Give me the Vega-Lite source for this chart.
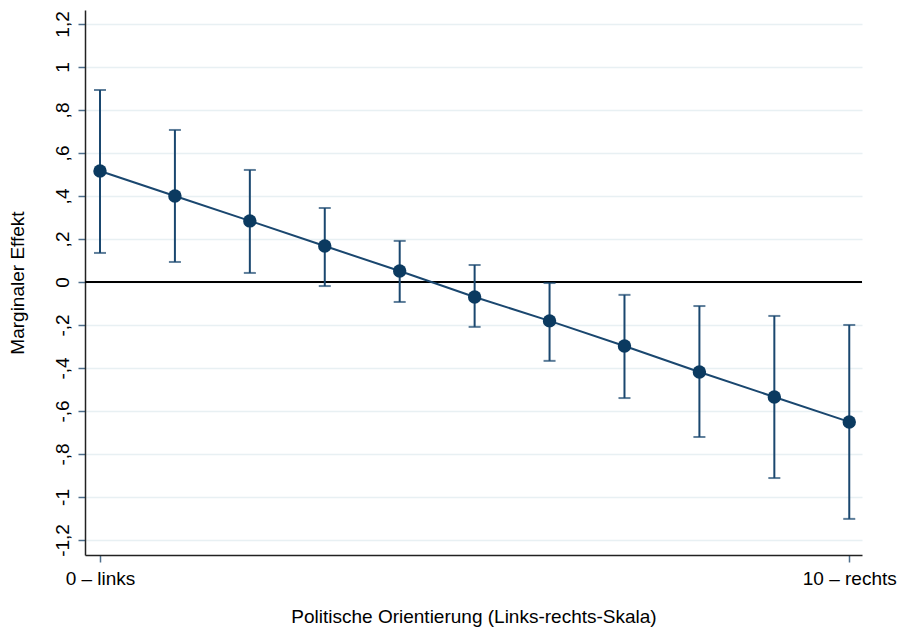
{
  "$schema": "https://vega.github.io/schema/vega-lite/v6.json",
  "width": 777,
  "height": 545,
  "autosize": {"type": "none"},
  "padding": {"left": 85, "top": 10, "right": 35, "bottom": 77},
  "background": "white",
  "config": {
    "view": {"stroke": null},
    "font": "Liberation Sans"
  },
  "data": {
    "values": [
      {"x": 0, "y": 0.516, "lo": 0.135, "hi": 0.893},
      {"x": 1, "y": 0.400, "lo": 0.093, "hi": 0.707},
      {"x": 2, "y": 0.284, "lo": 0.042, "hi": 0.521},
      {"x": 3, "y": 0.167, "lo": -0.019, "hi": 0.344},
      {"x": 4, "y": 0.051, "lo": -0.093, "hi": 0.191},
      {"x": 5, "y": -0.070, "lo": -0.209, "hi": 0.079},
      {"x": 6, "y": -0.181, "lo": -0.367, "hi": -0.005},
      {"x": 7, "y": -0.298, "lo": -0.540, "hi": -0.060},
      {"x": 8, "y": -0.419, "lo": -0.721, "hi": -0.112},
      {"x": 9, "y": -0.535, "lo": -0.912, "hi": -0.158},
      {"x": 10, "y": -0.651, "lo": -1.102, "hi": -0.200}
    ]
  },
  "encoding": {
    "x": {
      "field": "x",
      "type": "quantitative",
      "scale": {"domain": [-0.2, 10.17], "nice": false, "zero": false},
      "axis": {
        "values": [0, 10],
        "labelExpr": "datum.value == 0 ? '0 – links' : '10 – rechts'",
        "title": "Politische Orientierung (Links-rechts-Skala)",
        "grid": false,
        "domainColor": "#222222",
        "domainWidth": 1.5,
        "tickColor": "#4e6f8c",
        "tickWidth": 1.5,
        "tickSize": 7,
        "labelFontSize": 19,
        "labelColor": "#000000",
        "labelPadding": 7,
        "labelFont": "Liberation Sans",
        "titleFont": "Liberation Sans",
        "titleFontSize": 19,
        "titleFontWeight": "normal",
        "titleColor": "#000000",
        "titlePadding": 19
      }
    }
  },
  "layer": [
    {
      "mark": {"type": "rule", "color": "#000000", "strokeWidth": 1.8},
      "encoding": {"y": {"datum": 0, "type": "quantitative"}, "x": null}
    },
    {
      "mark": {"type": "rule", "color": "#1a476f", "strokeWidth": 2},
      "encoding": {
        "y": {
          "field": "lo",
          "type": "quantitative",
          "scale": {"domain": [-1.27, 1.265], "nice": false, "zero": false},
          "axis": {
            "values": [-1.2, -1, -0.8, -0.6, -0.4, -0.2, 0, 0.2, 0.4, 0.6, 0.8, 1, 1.2],
            "labelExpr": "replace(replace((datum.value < -0.001 ? '-' : '') + format(abs(datum.value), '.1~f'), '0.', '.'), '.', ',')",
            "title": "Marginaler Effekt",
            "grid": true,
            "gridColor": "#e8f0f3",
            "gridWidth": 1.5,
            "domainColor": "#222222",
            "domainWidth": 1.5,
            "tickColor": "#4e6f8c",
            "tickWidth": 1.5,
            "tickSize": 7,
            "labelAngle": -90,
            "labelAlign": "center",
            "labelBaseline": "bottom",
            "labelFontSize": 19,
            "labelColor": "#000000",
            "labelPadding": 6,
            "labelFont": "Liberation Sans",
            "titleFont": "Liberation Sans",
            "titleFontSize": 19,
            "titleFontWeight": "normal",
            "titleColor": "#000000",
            "titlePadding": 26
          }
        },
        "y2": {"field": "hi"}
      }
    },
    {
      "mark": {"type": "tick", "orient": "horizontal", "color": "#1a476f", "size": 12, "thickness": 2},
      "encoding": {"y": {"field": "lo", "type": "quantitative"}}
    },
    {
      "mark": {"type": "tick", "orient": "horizontal", "color": "#1a476f", "size": 12, "thickness": 2},
      "encoding": {"y": {"field": "hi", "type": "quantitative"}}
    },
    {
      "mark": {"type": "line", "color": "#1a476f", "strokeWidth": 2},
      "encoding": {"y": {"field": "y", "type": "quantitative"}}
    },
    {
      "mark": {"type": "point", "filled": true, "color": "#0b3a60", "opacity": 1, "size": 180},
      "encoding": {"y": {"field": "y", "type": "quantitative"}}
    }
  ]
}
